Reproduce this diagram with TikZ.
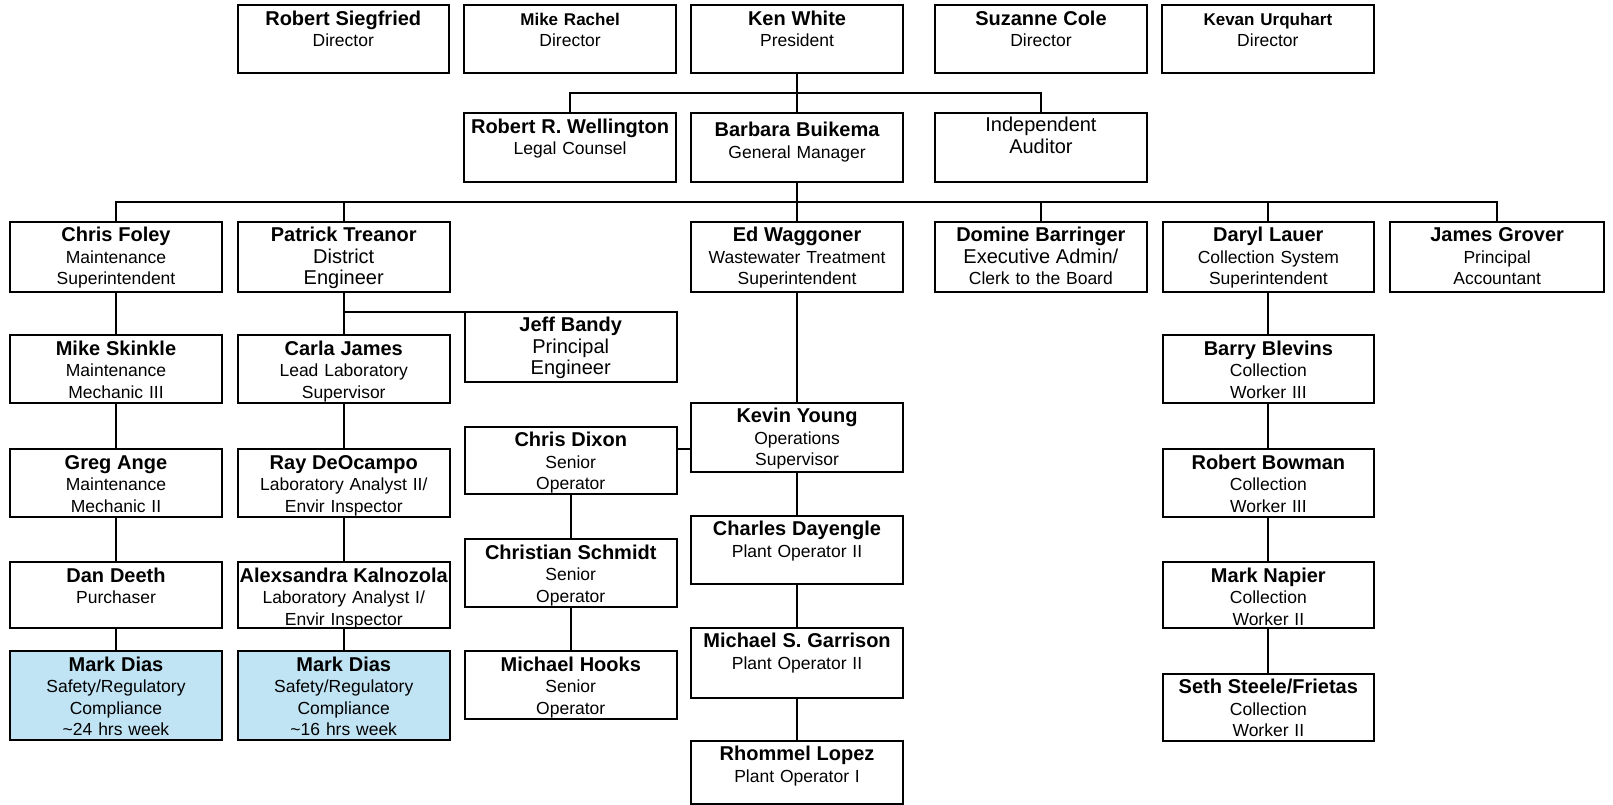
\documentclass[tikz,border=0pt]{standalone}
\usepackage{fontspec}
\setmainfont{Liberation Sans}
\usetikzlibrary{
		calc,
		positioning
	}
\definecolor{safetyblue}{RGB}{193,228,244}
\newcommand{\nm}[1]{{\fontsize{20}{21.5}\selectfont\bfseries #1}}
\newcommand{\nms}[1]{{\fontsize{17}{21.5}\selectfont\bfseries #1}}
\newcommand{\lgt}[1]{{\fontsize{20}{21.5}\selectfont #1}}

\begin{document}
\begin{tikzpicture}[x=1pt, y=1pt,
		box/.style={draw, black, line width=2pt, outer sep=0pt, anchor=north, text width=209pt, minimum width=211.5pt,
			align=center, inner xsep=1.25pt, inner ysep=0pt, text height=20pt, text depth=#1,
			font=\fontsize{17.5}{21.5}\selectfont},
		box/.default=48pt,
		hibox/.style={box=#1, fill=safetyblue},
		link/.style={line width=2pt, -}]
		\useasboundingbox (0,0) rectangle (1613,-805);
		% board and president
		\node[box=47.4pt] (d1) at (343.25,-5.3) {\nm{Robert Siegfried}\\Director};
		\node[box=47.4pt, right=15.3pt of d1] (d2) {\nms{Mike Rachel}\\Director};
		\node[box=47.4pt, right=15.5pt of d2] (pres) {\nm{Ken White}\\President};
		\node[box=47.4pt, right=32.4pt of pres] (d3) {\nm{Suzanne Cole}\\Director};
		\node[box=47.4pt, right=15.4pt of d3] (d4) {\nms{Kevan Urquhart}\\Director};
		\node[box=49pt, below=40.6pt of d2] (legal) {\nm{Robert R. Wellington}\\Legal Counsel};
		\node[box=49pt, below=40.6pt of pres, text height=23.5pt, text depth=45.5pt] (gm) {\nm{Barbara Buikema}\\General Manager};
		\node[box=49pt, below=40.6pt of d3, text height=18.5pt, text depth=50.5pt] (aud) {\lgt{Independent}\\\lgt{Auditor}};
		% department heads
		\node[box=50pt] (foley) at (116,-221.7) {\nm{Chris Foley}\\Maintenance\\Superintendent};
		\node[box=50pt, right=16.25pt of foley] (treanor) {\nm{Patrick Treanor}\\\lgt{District}\\\lgt{Engineer}};
		\node[box=50pt, below=39.4pt of gm] (wag) {\nm{Ed Waggoner}\\Wastewater Treatment\\Superintendent};
		\node[box=50pt, right=32.3pt of wag] (domine) {\nm{Domine Barringer}\\\lgt{Executive Admin/}\\Clerk to the Board};
		\node[box=50pt, right=16pt of domine] (lauer) {\nm{Daryl Lauer}\\Collection System\\Superintendent};
		\node[box=50pt, right=16pt of lauer, minimum width=214pt] (grover) {\nm{James Grover}\\Principal\\Accountant};
		% maintenance
		\node[box, below=43.3pt of foley] (skinkle) {\nm{Mike Skinkle}\\Maintenance\\Mechanic III};
		\node[box, below=46pt of skinkle] (ange) {\nm{Greg Ange}\\Maintenance\\Mechanic II};
		\node[box, below=45pt of ange, text depth=46.3pt] (deeth) {\nm{Dan Deeth}\\Purchaser};
		\node[hibox=69pt, below=22.7pt of deeth] (dias1) {\nm{Mark Dias}\\Safety/Regulatory\\Compliance\\\textasciitilde24 hrs week};
		% engineering and laboratory
		\node[box=50pt, below right=20pt and 15.5pt of treanor.south east, anchor=north west] (bandy) {\nm{Jeff Bandy}\\\lgt{Principal}\\\lgt{Engineer}};
		\node[box, below=43.3pt of treanor] (carla) {\nm{Carla James}\\Lead Laboratory\\Supervisor};
		\node[box, below=46pt of carla] (deocampo) {\nm{Ray DeOcampo}\\Laboratory Analyst II/\\Envir Inspector};
		\node[box, below=45pt of deocampo, text depth=46.3pt] (kalnozola) {\nm{Alexsandra Kalnozola}\\Laboratory Analyst I/\\Envir Inspector};
		\node[hibox=69pt, below=22.7pt of kalnozola] (dias2) {\nm{Mark Dias}\\Safety/Regulatory\\Compliance\\\textasciitilde16 hrs week};
		% treatment plant
		\node[box=49pt, below=111pt of wag] (young) {\nm{Kevin Young}\\Operations\\Supervisor};
		\node[box=48.6pt, below=44pt of young] (dayengle) {\nm{Charles Dayengle}\\Plant Operator II};
		\node[box=49.8pt, below=43.4pt of dayengle] (garrison) {\nm{Michael S. Garrison}\\Plant Operator II};
		\node[box=43pt, below=43pt of garrison] (lopez) {\nm{Rhommel Lopez}\\Plant Operator I};
		\node[box=47.6pt, below=45pt of bandy] (dixon) {\nm{Chris Dixon}\\Senior\\Operator};
		\node[box=47.4pt, below=45pt of dixon] (schmidt) {\nm{Christian Schmidt}\\Senior\\Operator};
		\node[box=47.7pt, below=44.3pt of schmidt] (hooks) {\nm{Michael Hooks}\\Senior\\Operator};
		% collection system
		\node[box, below=43.3pt of lauer] (blevins) {\nm{Barry Blevins}\\Collection\\Worker III};
		\node[box, below=46pt of blevins] (bowman) {\nm{Robert Bowman}\\Collection\\Worker III};
		\node[box=46pt, below=45pt of bowman] (napier) {\nm{Mark Napier}\\Collection\\Worker II};
		\node[box=47pt, below=45.7pt of napier] (steele) {\nm{Seth Steele/Frietas}\\Collection\\Worker II};
		% connectors
		\coordinate (bus1) at ($(pres.south)!0.5!(gm.north)$);
		\coordinate (bus2) at ($(gm.south)!0.5!(wag.north)$);
		\draw[link] (pres) -- (gm);
		\draw[link] (legal.north) |- (bus1) -| (aud.north);
		\draw[link] (gm) -- (wag);
		\draw[link] (foley.north) |- (bus2) -| (grover.north);
		\foreach \n in {treanor, domine, lauer}
			\draw[link] (\n.north) -- (\n.north |- bus2);
		\foreach \a/\b in {foley/skinkle, skinkle/ange, ange/deeth, deeth/dias1,
			treanor/carla, carla/deocampo, deocampo/kalnozola, kalnozola/dias2,
			wag/young, young/dayengle, dayengle/garrison, garrison/lopez,
			dixon/schmidt, schmidt/hooks,
			lauer/blevins, blevins/bowman, bowman/napier, napier/steele}
			\draw[link] (\a) -- (\b);
		\draw[link] (treanor.south |- bandy.north) -- (bandy.north west); % branch to principal engineer
		\coordinate (dy) at ($(dixon.east)!0.5!(young.west)$);
		\draw[link] (dixon.east |- dy) -- (young.west |- dy);
	\end{tikzpicture}
\end{document}
